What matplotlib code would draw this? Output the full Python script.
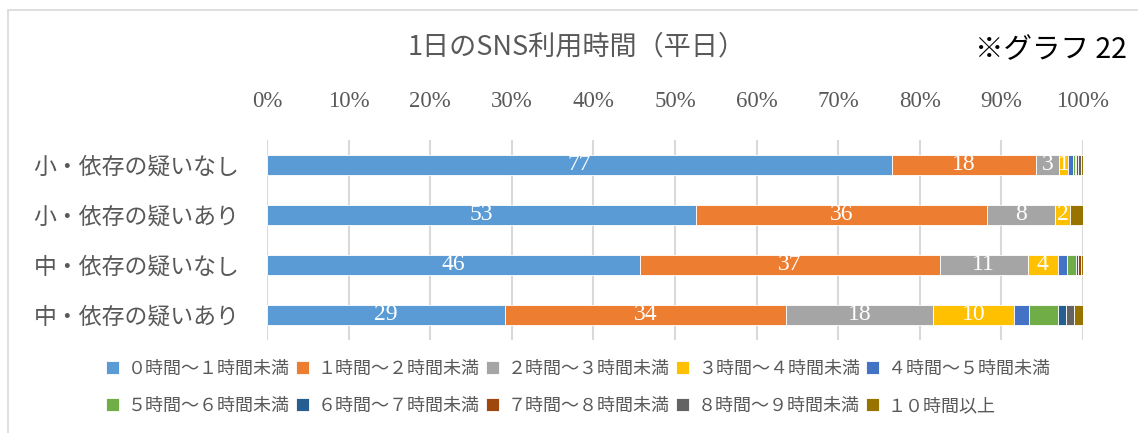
import numpy as np
import matplotlib.pyplot as plt
from matplotlib.patches import Rectangle

plt.rcParams['font.family'] = ['Noto Sans CJK JP', 'DejaVu Sans']

# groups (top to bottom)
groups = ['小・依存の疑いなし', '小・依存の疑いあり', '中・依存の疑いなし', '中・依存の疑いあり']

# share (%) of each usage-time class
h0_1 = [76.6, 52.6, 45.7, 29.2]
h1_2 = [17.6, 35.6, 36.8, 34.4]
h2_3 = [2.9, 8.4, 10.7, 18.0]
h3_4 = [1.1, 1.8, 3.7, 9.9]
h4_5 = [0.6, 0.0, 1.1, 1.9]
h5_6 = [0.2, 0.0, 1.2, 3.5]
h6_7 = [0.2, 0.0, 0.2, 1.0]
h7_8 = [0.2, 0.0, 0.3, 0.0]
h8_9 = [0.3, 0.0, 0.1, 1.0]
h10 = [0.3, 1.6, 0.2, 1.1]

series = [h0_1, h1_2, h2_3, h3_4, h4_5, h5_6, h6_7, h7_8, h8_9, h10]
names = ['０時間～１時間未満', '１時間～２時間未満', '２時間～３時間未満', '３時間～４時間未満',
         '４時間～５時間未満', '５時間～６時間未満', '６時間～７時間未満', '７時間～８時間未満',
         '８時間～９時間未満', '１０時間以上']
colors = ['#5B9BD5', '#ED7D31', '#A5A5A5', '#FFC000', '#4472C4',
          '#70AD47', '#255E91', '#9E480E', '#636363', '#997300']
n_labeled = 4

W, H = 1138, 433
fig = plt.figure(figsize=(W / 100, H / 100), dpi=100)
fig.patches.append(Rectangle((8 / W, -0.1), 1.2, 1 - 10 / H + 0.1, transform=fig.transFigure,
                             fill=False, edgecolor='#D9D9D9', linewidth=1.2))

ax = fig.add_axes([267 / W, (H - 340) / H, 816 / W, 200 / H])
y = np.arange(len(groups))
left = np.zeros(len(groups))
handles = []
for i, (vals, name, c) in enumerate(zip(series, names, colors)):
    vals = np.array(vals)
    b = ax.barh(y, vals, left=left, height=0.4, color=c, edgecolor='white', linewidth=0.6,
                label=name, zorder=3)
    handles.append(b)
    if i < n_labeled:
        for yy, l, v in zip(y, left, vals):
            if v > 0:
                ax.text(l + v / 2, yy, f'{v:.0f}', ha='center', va='center', color='white',
                        fontsize=17, family='Liberation Serif', zorder=4)
    left += vals

ax.set_xlim(0, 100)
ax.set_ylim(len(groups) - 0.5, -0.5)
ax.set_xticks(np.arange(0, 101, 10))
ax.set_xticklabels([f'{t}%' for t in range(0, 101, 10)], family='Liberation Serif',
                   fontsize=16.5, color='#595959')
ax.xaxis.tick_top()
ax.set_yticks(y)
ax.set_yticklabels(groups, fontsize=16.5, color='#595959')
ax.tick_params(axis='x', length=0, pad=20)
ax.tick_params(axis='y', length=0, pad=20)
ax.grid(axis='x', color='#D9D9D9', linewidth=1.5, zorder=0)
for s in ax.spines.values():
    s.set_visible(False)

fig.text(577 / W, 1 - 47 / H, '1日のSNS利用時間（平日）', ha='center', va='center',
         fontsize=19.5, color='#595959')
fig.text(1127 / W, 1 - 50 / H, '※グラフ 22', ha='right', va='center', fontsize=20.5, color='black')

# legend is filled column by column, so reorder to read row by row
order = [0, 5, 1, 6, 2, 7, 3, 8, 4, 9]
fig.legend([handles[k] for k in order], [names[k] for k in order],
           loc='upper left', bbox_to_anchor=(106 / W, 1 - 360 / H), bbox_transform=fig.transFigure,
           ncol=5, frameon=False, fontsize=13, handlelength=0.7, handleheight=0.7,
           handletextpad=0.5, columnspacing=0.35, labelspacing=1.05, borderpad=0,
           borderaxespad=0, labelcolor='#595959')

fig.savefig('out.png', dpi=100)
